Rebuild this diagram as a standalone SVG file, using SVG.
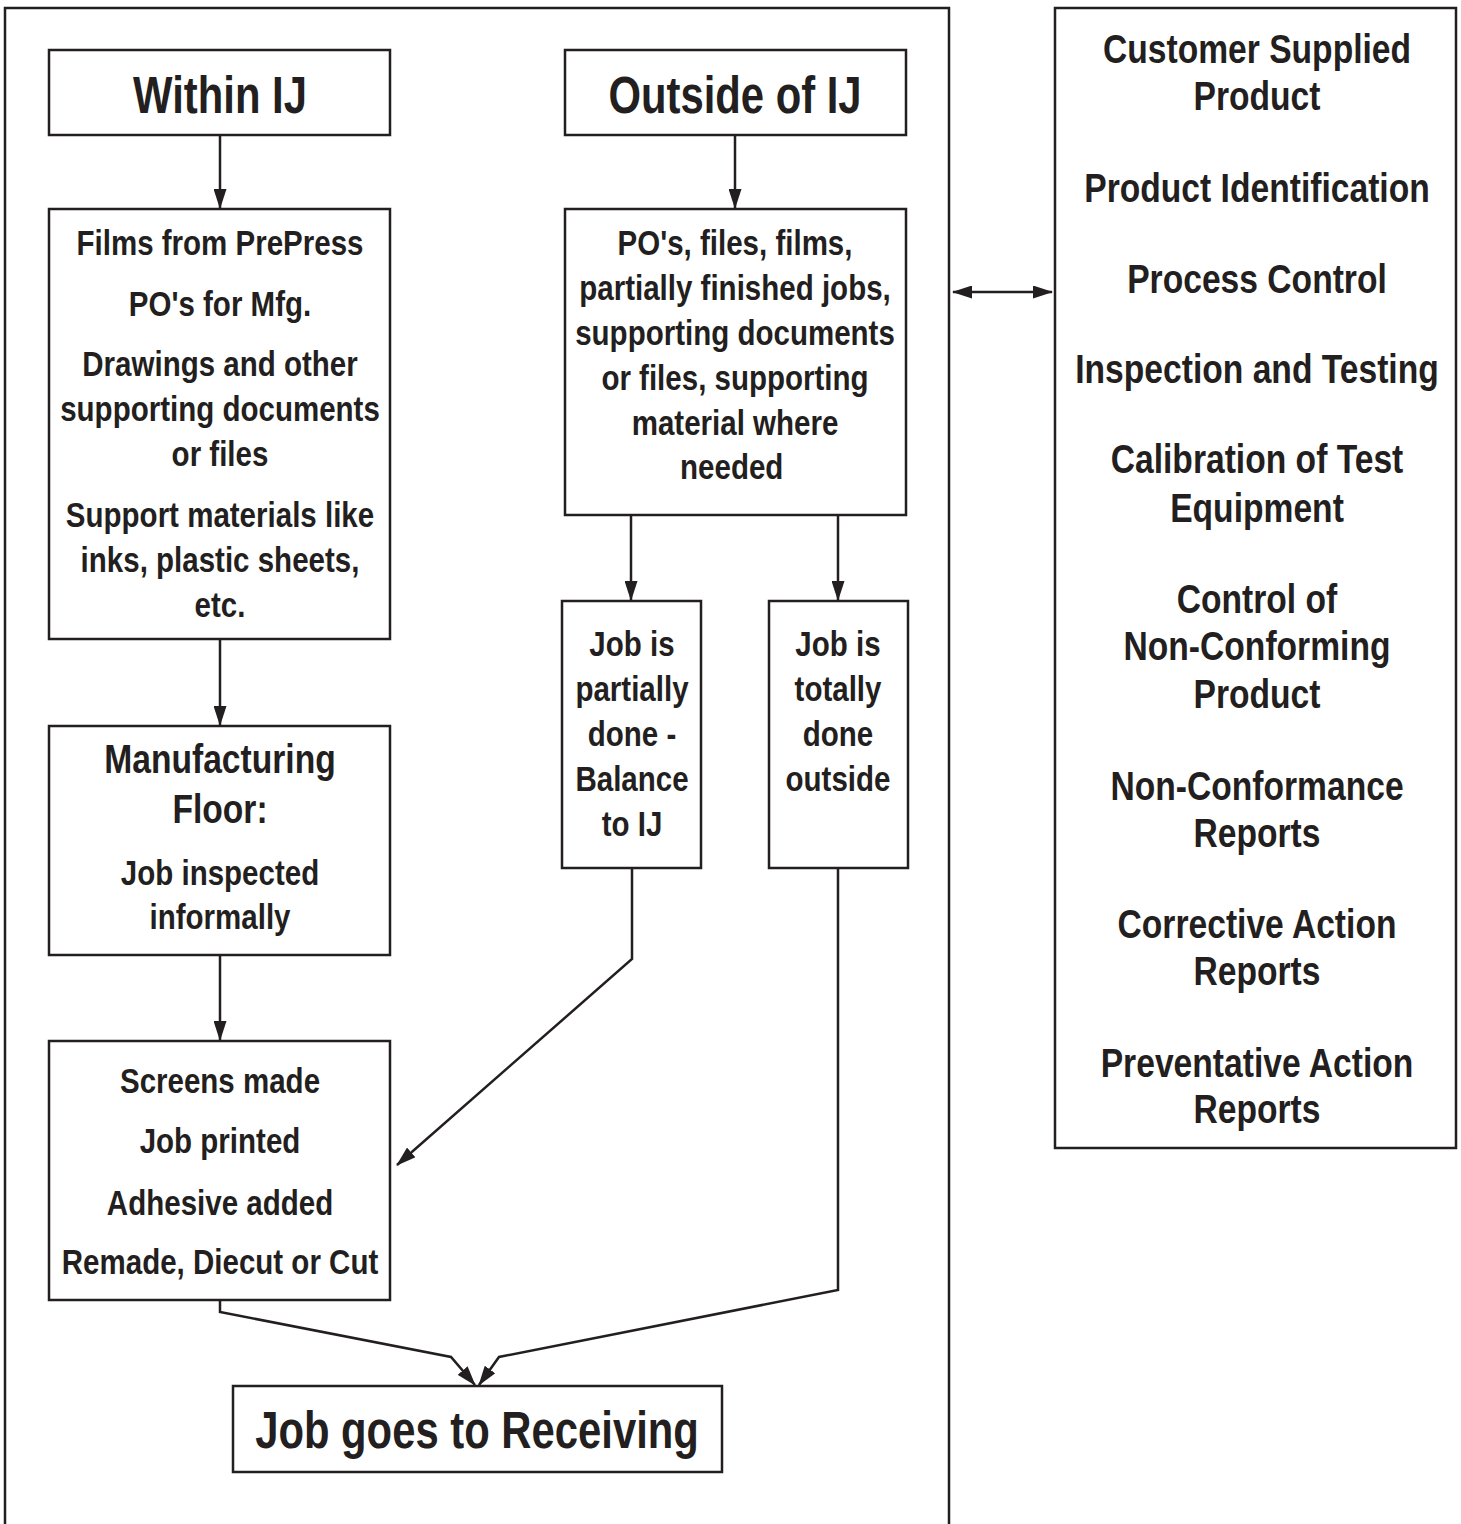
<svg xmlns="http://www.w3.org/2000/svg" width="1461" height="1524" viewBox="0 0 1461 1524">
<defs>
<style>
.box{fill:#fff;stroke:#231f20;stroke-width:2.5}
.frame{fill:none;stroke:#231f20;stroke-width:2.5}
.c{fill:none;stroke:#231f20;stroke-width:2.5;stroke-linejoin:miter}
text{font-family:"Liberation Sans Narrow","Liberation Sans",Arial,sans-serif;font-weight:bold;fill:#231f20;text-anchor:middle}
.t36{font-size:36px}
.t41{font-size:41px}
.t51{font-size:51px}
</style>
<marker id="ah" viewBox="0 0 20 13" refX="19" refY="6.5" markerWidth="20" markerHeight="13" markerUnits="userSpaceOnUse" orient="auto">
<path d="M0,0 L20,6.5 L0,13 Z" fill="#231f20"/>
</marker>
<marker id="ahs" viewBox="0 0 20 13" refX="1" refY="6.5" markerWidth="20" markerHeight="13" markerUnits="userSpaceOnUse" orient="auto">
<path d="M20,0 L0,6.5 L20,13 Z" fill="#231f20"/>
</marker>
</defs>
<rect width="1461" height="1524" fill="#fff"/>
<g id="frame">
<path class="frame" d="M5,1524 V8 H949 V1524"/>
</g>
<g id="connectors">
<path class="c" d="M220,136 V208" marker-end="url(#ah)"/>
<path class="c" d="M735,136 V208" marker-end="url(#ah)"/>
<path class="c" d="M220,640 V725" marker-end="url(#ah)"/>
<path class="c" d="M220,956 V1040" marker-end="url(#ah)"/>
<path class="c" d="M631,516 V600" marker-end="url(#ah)"/>
<path class="c" d="M838,516 V600" marker-end="url(#ah)"/>
<path class="c" d="M632,869 V959 L397,1165" marker-end="url(#ah)"/>
<path class="c" d="M220,1301 V1312 L451,1357 L475,1385" marker-end="url(#ah)"/>
<path class="c" d="M838,869 V1290 L499,1357 L479,1385" marker-end="url(#ah)"/>
<path class="c" d="M953,292 H1052" marker-start="url(#ahs)" marker-end="url(#ah)"/>
</g>
<g id="within">
<rect class="box" x="49" y="50" width="341" height="85"/>
<g transform="translate(220 0) scale(0.82 1)"><text class="t51" x="0" y="113">Within IJ</text></g>
</g>
<g id="outside">
<rect class="box" x="565" y="50" width="341" height="85"/>
<g transform="translate(735 0) scale(0.82 1)"><text class="t51" x="0" y="113">Outside of IJ</text></g>
</g>
<g id="films">
<rect class="box" x="49" y="209" width="341" height="430"/>
<g transform="translate(220 0) scale(0.82 1)">
<text class="t36" x="0" y="255">Films from PrePress</text>
<text class="t36" x="0" y="316">PO's for Mfg.</text>
<text class="t36" x="0" y="376">Drawings and other</text>
<text class="t36" x="0" y="421">supporting documents</text>
<text class="t36" x="0" y="466">or files</text>
<text class="t36" x="0" y="527">Support materials like</text>
<text class="t36" x="0" y="572">inks, plastic sheets,</text>
<text class="t36" x="0" y="617">etc.</text>
</g>
</g>
<g id="pos">
<rect class="box" x="565" y="209" width="341" height="306"/>
<g transform="translate(735 0) scale(0.82 1)">
<text class="t36" x="0" y="255">PO's, files, films,</text>
<text class="t36" x="0" y="300">partially finished jobs,</text>
<text class="t36" x="0" y="345">supporting documents</text>
<text class="t36" x="0" y="390">or files, supporting</text>
<text class="t36" x="0" y="435">material where</text>
<text class="t36" x="-4" y="479">needed</text>
</g>
</g>
<g id="partial">
<rect class="box" x="562" y="601" width="139" height="267"/>
<g transform="translate(632 0) scale(0.82 1)">
<text class="t36" x="0" y="656">Job is</text>
<text class="t36" x="0" y="701">partially</text>
<text class="t36" x="0" y="746">done -</text>
<text class="t36" x="0" y="791">Balance</text>
<text class="t36" x="0" y="836">to IJ</text>
</g>
</g>
<g id="totally">
<rect class="box" x="769" y="601" width="139" height="267"/>
<g transform="translate(838 0) scale(0.82 1)">
<text class="t36" x="0" y="656">Job is</text>
<text class="t36" x="0" y="701">totally</text>
<text class="t36" x="0" y="746">done</text>
<text class="t36" x="0" y="791">outside</text>
</g>
</g>
<g id="mfg">
<rect class="box" x="49" y="726" width="341" height="229"/>
<g transform="translate(220 0) scale(0.82 1)">
<text class="t41" x="0" y="773">Manufacturing</text>
<text class="t41" x="0" y="823">Floor:</text>
<text class="t36" x="0" y="885">Job inspected</text>
<text class="t36" x="0" y="929">informally</text>
</g>
</g>
<g id="screens">
<rect class="box" x="49" y="1041" width="341" height="259"/>
<g transform="translate(220 0) scale(0.82 1)">
<text class="t36" x="0" y="1093">Screens made</text>
<text class="t36" x="0" y="1153">Job printed</text>
<text class="t36" x="0" y="1215">Adhesive added</text>
<text class="t36" x="0" y="1274">Remade, Diecut or Cut</text>
</g>
</g>
<g id="receiving">
<rect class="box" x="233" y="1386" width="489" height="86"/>
<g transform="translate(477 0) scale(0.82 1)"><text class="t51" x="0" y="1448">Job goes to Receiving</text></g>
</g>
<g id="quality">
<rect class="box" x="1055" y="8" width="401" height="1140"/>
<g transform="translate(1257 0) scale(0.82 1)">
<text class="t41" x="0" y="63">Customer Supplied</text>
<text class="t41" x="0" y="110">Product</text>
<text class="t41" x="0" y="202">Product Identification</text>
<text class="t41" x="0" y="293">Process Control</text>
<text class="t41" x="0" y="383">Inspection and Testing</text>
<text class="t41" x="0" y="473">Calibration of Test</text>
<text class="t41" x="0" y="522">Equipment</text>
<text class="t41" x="0" y="613">Control of</text>
<text class="t41" x="0" y="660">Non-Conforming</text>
<text class="t41" x="0" y="708">Product</text>
<text class="t41" x="0" y="800">Non-Conformance</text>
<text class="t41" x="0" y="847">Reports</text>
<text class="t41" x="0" y="938">Corrective Action</text>
<text class="t41" x="0" y="985">Reports</text>
<text class="t41" x="0" y="1077">Preventative Action</text>
<text class="t41" x="0" y="1123">Reports</text>
</g>
</g>
</svg>
